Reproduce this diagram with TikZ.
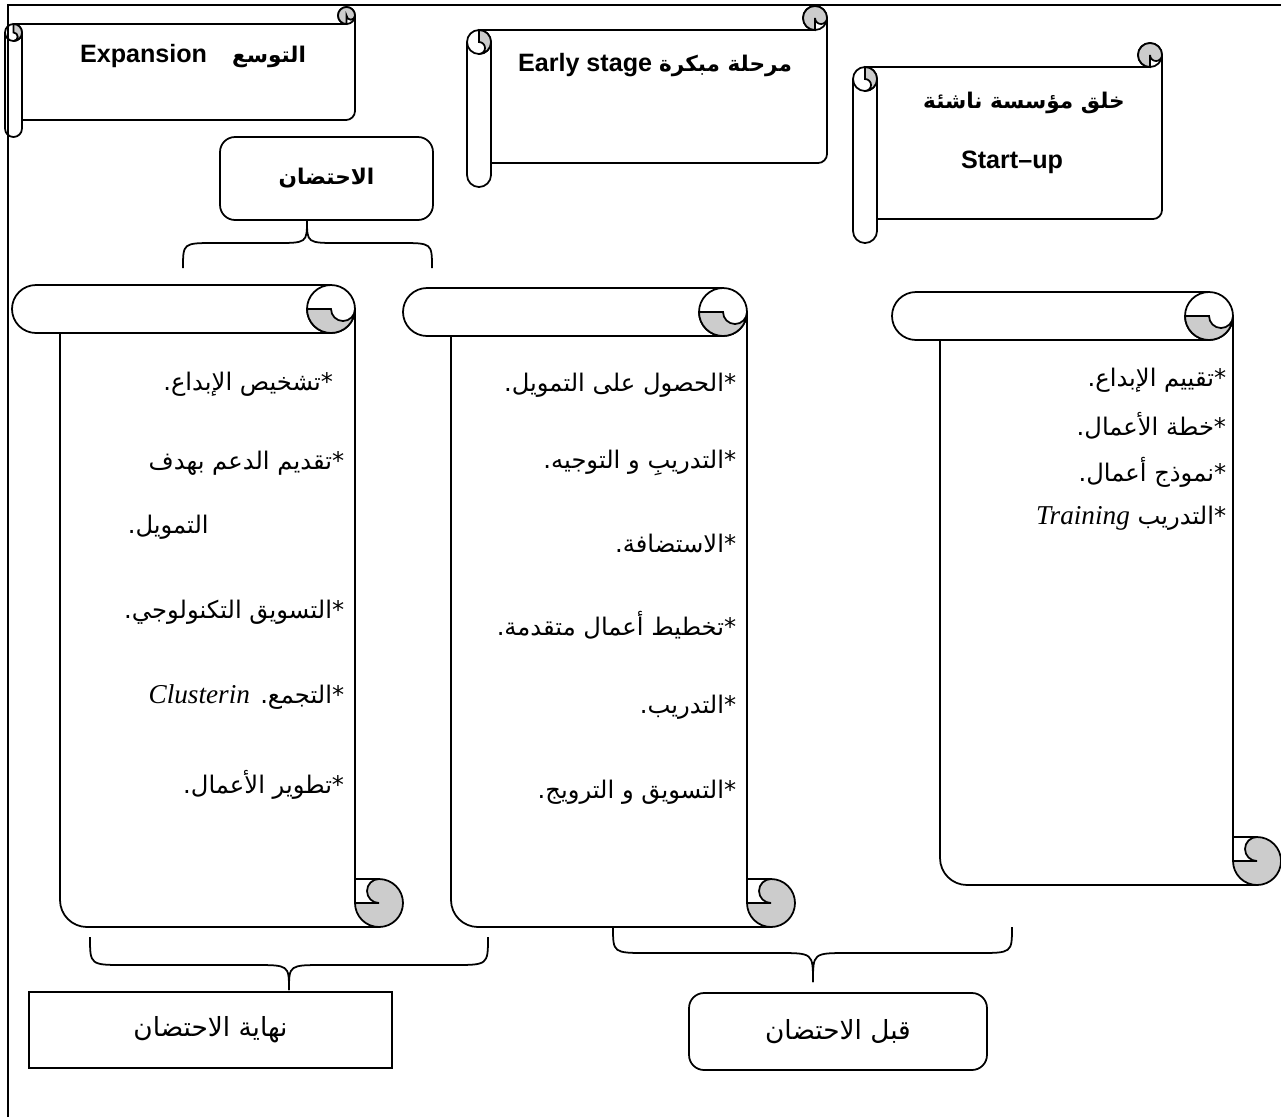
\documentclass[tikz,border=0pt]{standalone}
\usepackage{fontspec}
\setmainfont{Liberation Serif}
\newfontfamily\arabicfont[Script=Arabic]{DejaVu Sans}
\newfontfamily\titlefont{Liberation Sans}
\TeXXeTstate=1
\usetikzlibrary{positioning}
\definecolor{curl}{RGB}{204,204,204}
\newcommand{\astx}{*\kern0pt}
\newcommand{\dotx}{\kern0pt.}
% vertical scroll: left, body right, top, bottom, roll
\newcommand{\vscroll}[5]{%
  \draw ({#1+#5/2},#3) -- ({#2-#5/2},#3);
  \draw ({#1+#5/2},#3) arc (270:90:{#5/2}) -- ({#2-#5/2},{#3+#5});
  \draw ({#2-#5/2},{#3+#5/2}) circle ({#5/2});
  \filldraw[fill=curl] ({#2-#5},{#3+#5/2}) arc (180:0:{#5/2}) arc (0:180:{#5/4}) -- cycle;
  \draw ({#1+#5},{#3+#5}) -- ({#1+#5},{#4-27}) arc (180:90:27) -- ({#2+#5/2},#4);
  \draw (#2,{#3+#5/2}) -- (#2,{#4-#5/2});
  \filldraw[fill=curl] ({#2+#5/2},{#4-#5}) arc (270:540:{#5/2}) -- ({#2+#5/2},{#4-#5/2}) arc (90:270:{#5/4}) -- cycle;
  \draw (#2,{#4-#5}) -- ({#2+#5/2},{#4-#5});
}
% horizontal scroll: left, right, top, bottom, roll
\newcommand{\hscroll}[5]{%
  \draw ({#1+#5/2},{#3+#5}) -- ({#2-#5/2},{#3+#5});
  \draw (#2,{#3+#5/2}) -- (#2,{#4-#5-9}) arc (0:90:9) -- ({#1+#5},{#4-#5});
  \draw ({#2-#5/2},{#3+#5/2}) circle ({#5/2});
  \filldraw[fill=curl] ({#2-#5/2},{#3+#5}) arc (90:360:{#5/2}) arc (0:180:{#5/4}) -- cycle;
  \draw ({#1+#5},{#3+1.5*#5}) -- ({#1+#5},{#4-#5/2}) arc (0:180:{#5/2}) -- (#1,{#3+1.5*#5});
  \draw ({#1+#5/2},{#3+1.5*#5}) circle ({#5/2});
  \filldraw[fill=curl] ({#1+#5/2},{#3+#5}) arc (270:450:{#5/2}) arc (90:-90:{#5/4}) -- cycle;
}

\begin{document}
\begin{tikzpicture}[x=0.02cm, y=-0.02cm, line width=1pt,
    title/.style={font=\titlefont\bfseries\fontsize{14.3}{17}\selectfont, inner sep=0pt},
    artitle/.style={font=\arabicfont\bfseries\fontsize{12.3}{15}\selectfont, inner sep=0pt},
    item/.style={font=\arabicfont\fontsize{13.8}{16}\selectfont, inner sep=0pt, anchor=east},
    label/.style={draw, font=\arabicfont\fontsize{15}{18}\selectfont, inner sep=0pt},
    brace/.style={line width=1pt}
]
\useasboundingbox (0,0) rectangle (1281,1117);
\draw (8,1117) -- (8,5) -- (1281,5);

\hscroll{5}{355}{7}{137}{17}
\hscroll{467}{827}{6}{187}{24}
\hscroll{853}{1162}{43}{243}{24}

\node[title] (exp) at (193,56) {\beginR{\arabicfont\fontsize{12.3}{15}\selectfont التوسع}\hspace{0.5cm}\beginL Expansion\endL\endR};
\node[title] (early) at (655,65) {\beginR{\arabicfont\fontsize{12.3}{15}\selectfont مرحلة مبكرة} \beginL Early stage\endL\endR};
\node[artitle] (startA) at (1024,103) {\beginR خلق مؤسسة ناشئة\endR};
\node[title] (startB) at (1012,162) {Start–up};

\node[label, rounded corners=0.3cm, minimum width=4.26cm, minimum height=1.66cm,
  font=\arabicfont\bfseries\fontsize{12.3}{15}\selectfont] (incub) at (326.5,178.5) {\beginR الاحتضان\endR};

\vscroll{12}{355}{285}{927}{48}
\vscroll{403}{747}{288}{927}{48}
\vscroll{892}{1233}{292}{885}{48}

\node[item] (a1) at (334,384) {\beginR\astx تشخيص الإبداع\dotx\endR};
\node[item] (a2) at (345,463) {\beginR\astx تقديم الدعم بهدف\endR};
\node[item, anchor=west] (a3) at (127,527) {\beginR التمويل\dotx\endR};
\node[item] (a4) at (345,612) {\beginR\astx التسويق التكنولوجي\dotx\endR};
\node[item] (a5) at (345,697) {\beginR\astx التجمع\dotx{} \beginL{\rmfamily\itshape\fontsize{15.5}{18}\selectfont Clusterin}\endL\endR};
\node[item] (a6) at (345,785) {\beginR\astx تطوير الأعمال\dotx\endR};

\node[item] (b1) at (737,385) {\beginR\astx الحصول على التمويل\dotx\endR};
\node[item] (b2) at (737,463) {\beginR\astx التدريبِ و التوجيه\dotx\endR};
\node[item] (b3) at (737,543) {\beginR\astx الاستضافة\dotx\endR};
\node[item] (b4) at (737,625) {\beginR\astx تخطيط أعمال متقدمة\dotx\endR};
\node[item] (b5) at (737,707) {\beginR\astx التدريب\dotx\endR};
\node[item] (b6) at (737,792) {\beginR\astx التسويق و الترويج\dotx\endR};

\node[item] (c1) at (1227,380) {\beginR\astx تقييم الإبداع\dotx\endR};
\node[item] (c2) at (1227,426) {\beginR\astx خطة الأعمال\dotx\endR};
\node[item] (c3) at (1227,472) {\beginR\astx نموذج أعمال\dotx\endR};
\node[item] (c4) at (1227,518) {\beginR\astx التدريب \beginL{\rmfamily\itshape\fontsize{15.5}{18}\selectfont Training}\endL\endR};

\node[label, minimum width=7.26cm, minimum height=1.52cm] (endinc) at (210.5,1030) {\beginR نهاية الاحتضان\endR};
\node[label, rounded corners=0.3cm, minimum width=5.96cm, minimum height=1.54cm] (preinc) at (838,1031.5) {\beginR قبل الاحتضان\endR};

\coordinate (t0) at (307,220);
\coordinate (l0) at (183,268);
\coordinate (r0) at (432,268);
\draw[brace] (l0) .. controls (183,243) .. (215,243) -- (275,243) .. controls (307,243) .. (t0);
\draw[brace] (r0) .. controls (432,243) .. (400,243) -- (339,243) .. controls (307,243) .. (t0);

\coordinate (t1) at (289,990);
\coordinate (l1) at (90,937);
\coordinate (r1) at (488,937);
\draw[brace] (l1) .. controls (90,965) .. (125,965) -- (254,965) .. controls (289,965) .. (t1);
\draw[brace] (r1) .. controls (488,965) .. (453,965) -- (324,965) .. controls (289,965) .. (t1);

\coordinate (t2) at (813,982);
\coordinate (l2) at (613,927);
\coordinate (r2) at (1012,927);
\draw[brace] (l2) .. controls (613,953) .. (648,953) -- (778,953) .. controls (813,953) .. (t2);
\draw[brace] (r2) .. controls (1012,953) .. (977,953) -- (848,953) .. controls (813,953) .. (t2);
\end{tikzpicture}
\end{document}
